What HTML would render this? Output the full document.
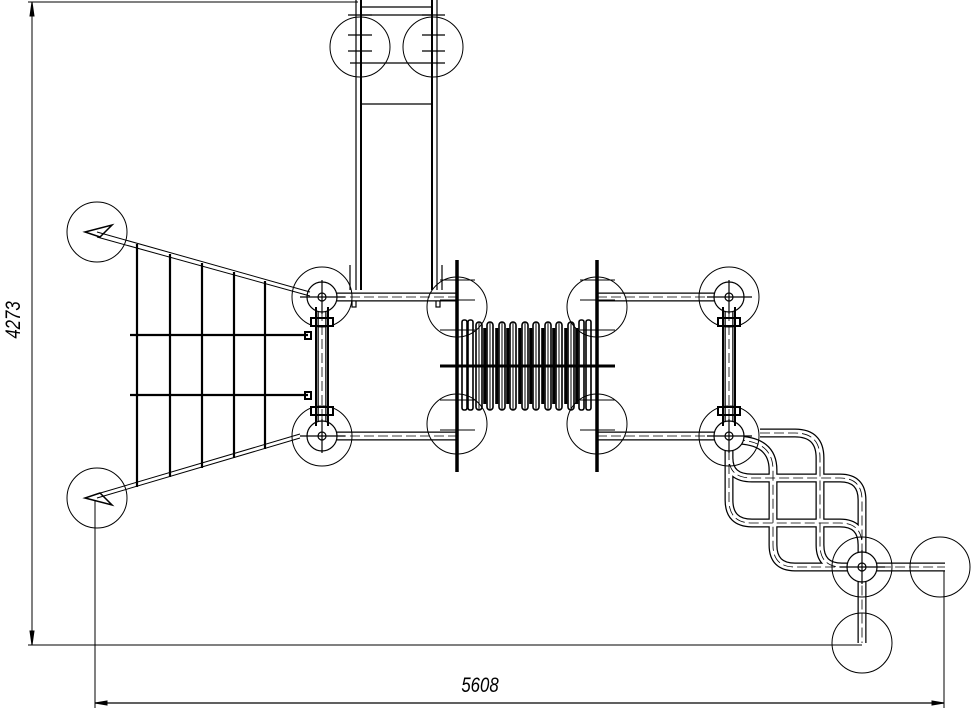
<!DOCTYPE html>
<html><head><meta charset="utf-8"><style>html,body{margin:0;padding:0;background:#fff}svg{display:block}</style></head>
<body>
<svg width="971" height="711" viewBox="0 0 971 711" xmlns="http://www.w3.org/2000/svg" fill="none" stroke="#000" stroke-width="1">
<!-- dimensions -->
<line x1="32" y1="2" x2="32" y2="645"/>
<line x1="28" y1="2" x2="358" y2="2"/>
<line x1="28" y1="645" x2="862" y2="645"/>
<path d="M32 2 l-2 14 l4 0 z M32 645 l-2 -14 l4 0 z" fill="#000"/>
<line x1="95" y1="500" x2="95" y2="708"/>
<line x1="944" y1="567" x2="944" y2="708"/>
<line x1="95" y1="703" x2="944" y2="703" stroke-width="1.3"/>
<path d="M95 703 l12 -2 l0 4 z M944 703 l-12 -2 l0 4 z" fill="#000"/>
<text x="0" y="0" font-family="Liberation Sans, sans-serif" font-size="21" font-style="italic" fill="#000" stroke="none" text-anchor="middle" transform="translate(480,692) scale(0.8,1)">5608</text>
<text x="0" y="0" font-family="Liberation Sans, sans-serif" font-size="21" font-style="italic" fill="#000" stroke="none" text-anchor="middle" transform="translate(20,320) rotate(-90) scale(0.8,1)">4273</text>

<!-- top ladder -->
<g stroke-width="1.2">
<line x1="356" y1="0" x2="356" y2="290"/><line x1="361" y1="0" x2="361" y2="290" stroke-width="2"/>
<line x1="432" y1="0" x2="432" y2="290" stroke-width="2"/><line x1="437" y1="0" x2="437" y2="290"/>
<line x1="361" y1="7" x2="432" y2="7"/><line x1="361" y1="15" x2="432" y2="15"/>
<line x1="361" y1="104" x2="432" y2="104"/>
<line x1="350" y1="63" x2="445" y2="63"/>
<line x1="348" y1="15" x2="372" y2="15"/><line x1="348" y1="35" x2="372" y2="35"/><line x1="348" y1="51" x2="372" y2="51"/>
<line x1="422" y1="15" x2="445" y2="15"/><line x1="422" y1="35" x2="445" y2="35"/><line x1="422" y1="51" x2="445" y2="51"/>
<line x1="350" y1="265" x2="350" y2="290"/><line x1="442" y1="265" x2="442" y2="290"/>
<rect x="352" y="295" width="4" height="12"/><rect x="436" y="295" width="4" height="12"/>
</g>
<circle cx="360" cy="47" r="30"/><circle cx="433" cy="47" r="30"/>

<!-- tubes frame -->
<g>
<path d="M322 297 H457 M322 436 H457 M597 297 H729 M597 436 H729 M322 297 V436 M729 297 V436" stroke-width="9"/>
<path d="M322 297 H457 M322 436 H457 M597 297 H729 M597 436 H729 M322 297 V436 M729 297 V436" stroke="#fff" stroke-width="6.5"/>
<path d="M322 297 H457 M322 436 H457 M597 297 H729 M597 436 H729 M322 297 V436 M729 297 V436" stroke-dasharray="10 4" stroke-width="0.8"/>
</g>
<!-- snake tubes -->
<g>
<path d="M760 433 H795 Q820 433 820 458 V545 Q820 567 842 567 M735 440 Q773 440 773 470 V545 Q773 567 795 567 H945 M729 436 V458 Q729 478 752 478 H840 Q862 478 862 500 V643 M729 436 V500 Q729 523 752 523 H840 Q862 523 862 545" stroke-width="9"/>
<path d="M760 433 H795 Q820 433 820 458 V545 Q820 567 842 567 M735 440 Q773 440 773 470 V545 Q773 567 795 567 H945 M729 436 V458 Q729 478 752 478 H840 Q862 478 862 500 V643 M729 436 V500 Q729 523 752 523 H840 Q862 523 862 545" stroke="#fff" stroke-width="6.5"/>
<path d="M760 433 H795 Q820 433 820 458 V545 Q820 567 842 567 M735 440 Q773 440 773 470 V545 Q773 567 795 567 H945 M729 436 V458 Q729 478 752 478 H840 Q862 478 862 500 V643 M729 436 V500 Q729 523 752 523 H840 Q862 523 862 545" stroke-dasharray="10 4" stroke-width="0.8"/>
</g>

<!-- node circles -->
<g>
<circle cx="322" cy="297" r="30"/><circle cx="322" cy="436" r="30"/>
<circle cx="457" cy="307" r="30"/><circle cx="457" cy="424" r="30"/>
<circle cx="597" cy="307" r="30"/><circle cx="597" cy="424" r="30"/>
<circle cx="729" cy="297" r="30"/><circle cx="729" cy="436" r="30"/>
<circle cx="862" cy="567" r="30"/><circle cx="940" cy="567" r="30"/><circle cx="862" cy="643" r="30"/>
<circle cx="97" cy="232" r="30"/><circle cx="97" cy="498" r="30"/>
</g>
<g stroke-width="1.2">
<circle cx="322" cy="297" r="15" fill="#fff"/><circle cx="322" cy="297" r="4"/>
<circle cx="322" cy="436" r="15" fill="#fff"/><circle cx="322" cy="436" r="4"/>
<circle cx="729" cy="297" r="15" fill="#fff"/><circle cx="729" cy="297" r="4"/>
<circle cx="729" cy="436" r="15" fill="#fff"/><circle cx="729" cy="436" r="4"/>
<circle cx="862" cy="567" r="15" fill="#fff"/><circle cx="862" cy="567" r="4"/>
<path d="M300 297 H345 M322 280 V314 M300 436 H345 M322 419 V453 M707 297 H752 M729 280 V314 M707 436 H752 M729 419 V453 M840 567 H885 M862 550 V584"/>
<path d="M316 307 V426 M328 307 V426 M723 307 V426 M735 307 V426" stroke-width="2"/>
<rect x="311" y="318" width="22" height="8" stroke-width="2"/><rect x="311" y="407" width="22" height="8" stroke-width="2"/>
<rect x="718" y="318" width="22" height="8" stroke-width="2"/><rect x="718" y="407" width="22" height="8" stroke-width="2"/>
<rect x="305" y="332" width="6" height="7" stroke-width="2"/><rect x="305" y="392" width="6" height="7" stroke-width="2"/>
</g>

<!-- net -->
<g>
<path d="M97 232 L310 292 M97 237 L310 296" stroke-width="1"/>
<path d="M97 498 L300 438 M97 494 L300 434" stroke-width="1"/>
<path d="M137 244 V487 M170 254 V477 M202 263 V468 M234 272 V458 M265 281 V449" stroke-width="2.2"/>
<path d="M130 335 H308 M130 395 H308" stroke-width="2.2"/>
<path d="M85 232 L112 225 L100 237 Z M85 498 L112 505 L100 493 Z" stroke-width="1.5"/>
</g>

<!-- bridge -->
<g>
<line x1="457" y1="260" x2="457" y2="472" stroke-width="3.5"/>
<line x1="597" y1="260" x2="597" y2="472" stroke-width="3.5"/>
<g stroke-width="1.6">
<rect x="462" y="320" width="5" height="90" rx="2"/><rect x="468" y="320" width="5" height="90" rx="2"/>
<rect x="476" y="322" width="6" height="88" rx="3"/><rect x="487" y="322" width="6" height="88" rx="3"/>
<rect x="499" y="322" width="6" height="88" rx="3"/><rect x="510" y="322" width="6" height="88" rx="3"/>
<rect x="522" y="322" width="6" height="88" rx="3"/><rect x="533" y="322" width="6" height="88" rx="3"/>
<rect x="545" y="322" width="6" height="88" rx="3"/><rect x="556" y="322" width="6" height="88" rx="3"/>
<rect x="568" y="322" width="6" height="88" rx="3"/><rect x="579" y="320" width="5" height="90" rx="2"/>
<rect x="586" y="320" width="5" height="90" rx="2"/>
<path d="M484 328 V404 M485.5 328 V404 M496 328 V404 M497.5 328 V404 M507 328 V404 M508.5 328 V404 M519 328 V404 M520.5 328 V404 M530 328 V404 M531.5 328 V404 M542 328 V404 M543.5 328 V404 M553 328 V404 M554.5 328 V404 M565 328 V404 M566.5 328 V404 M576 328 V404 M577.5 328 V404"/>
<path d="M479 322 V410 M490 322 V410 M502 322 V410 M513 322 V410 M525 322 V410 M536 322 V410 M548 322 V410 M559 322 V410 M571 322 V410" stroke-width="1"/>
</g>
<line x1="440" y1="366" x2="615" y2="366" stroke-width="3"/>
<path d="M440 280 H475 M440 300 H475 M440 330 H475 M440 400 H475 M440 430 H475 M580 280 H615 M580 300 H615 M580 330 H615 M580 400 H615 M580 430 H615"/>
</g>
</svg>
</body></html>
